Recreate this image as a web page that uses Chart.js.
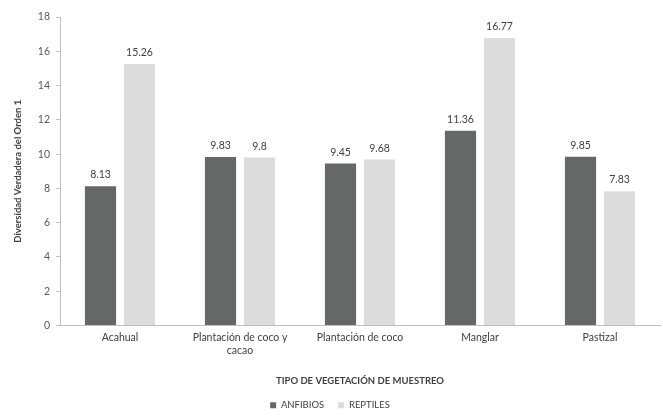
<!DOCTYPE html>
<html><head><meta charset="utf-8">
<script src="https://cdn.jsdelivr.net/npm/chart.js@4.4.1/dist/chart.umd.min.js"></script>
<style>html,body{margin:0;padding:0;background:#fff}#wrap{width:663px;height:420px}</style>
</head><body><div id="wrap"><canvas id="c" width="663" height="420"></canvas></div>
<script>
const categories = ["Acahual", ["Plantación de coco y", "cacao"], "Plantación de coco", "Manglar", "Pastizal"];
const anfibios = [8.13, 9.83, 9.45, 11.36, 9.85];
const reptiles = [15.26, 9.8, 9.68, 16.77, 7.83];
const yTicks = [0, 2, 4, 6, 8, 10, 12, 14, 16, 18];
const FONT = "Lato, 'Open Sans', sans-serif";

const valueLabels = {
  id: 'valueLabels',
  afterDatasetsDraw(chart) {
    const ctx = chart.ctx;
    ctx.save();
    ctx.font = "10.5px " + FONT;
    ctx.fillStyle = '#404040';
    ctx.textAlign = 'center';
    ctx.textBaseline = 'bottom';
    chart.data.datasets.forEach((ds, i) => {
      chart.getDatasetMeta(i).data.forEach((bar, j) => {
        ctx.fillText(String(ds.data[j]), bar.x, bar.y - 6);
      });
    });
    ctx.restore();
  }
};

new Chart(document.getElementById('c'), {
  type: 'bar',
  data: {
    labels: categories,
    datasets: [
      { label: 'ANFIBIOS', data: anfibios, backgroundColor: '#666867', borderWidth: 0 },
      { label: 'REPTILES', data: reptiles, backgroundColor: '#dcdcdc', borderWidth: 0 }
    ]
  },
  options: {
    responsive: false,
    animation: false,
    devicePixelRatio: 1,
    layout: { padding: { top: 17, right: 3, bottom: 0, left: 0 } },
    datasets: { bar: { categoryPercentage: 0.65, barPercentage: 0.8 } },
    plugins: {
      tooltip: { enabled: false },
      legend: {
        position: 'bottom',
        labels: { boxWidth: 6, boxHeight: 6, padding: 14, color: '#404040', font: { size: 9.5, family: FONT } }
      }
    },
    scales: {
      x: {
        grid: { display: true, drawOnChartArea: false, drawTicks: false, color: '#d0d0d0' },
        border: { color: '#bfbfbf' },
        ticks: { color: '#404040', font: { size: 10.5, family: FONT }, padding: 6, maxRotation: 0, autoSkip: false },
        title: { display: true, text: 'TIPO DE VEGETACIÓN DE MUESTREO', color: '#404040', font: { size: 9.5, weight: 'bold', family: FONT }, padding: { top: 10, bottom: 0 } },
        afterFit(s) { s.height = 61; }
      },
      y: {
        min: 0, max: 18,
        afterBuildTicks(s) { s.ticks = yTicks.map(v => ({ value: v })); },
        grid: { display: true, drawOnChartArea: false, drawTicks: true, tickLength: 4, color: '#bfbfbf' },
        border: { color: '#bfbfbf' },
        ticks: { color: '#595959', font: { size: 10.5, family: FONT }, padding: 6 },
        title: { display: true, text: 'Diversidad Verdadera del Orden 1', color: '#404040', font: { size: 9.5, weight: 'bold', family: FONT }, padding: { top: 12, bottom: 4 } },
        afterFit(s) { s.width = 60; }
      }
    }
  },
  plugins: [valueLabels]
});
</script></body></html>
